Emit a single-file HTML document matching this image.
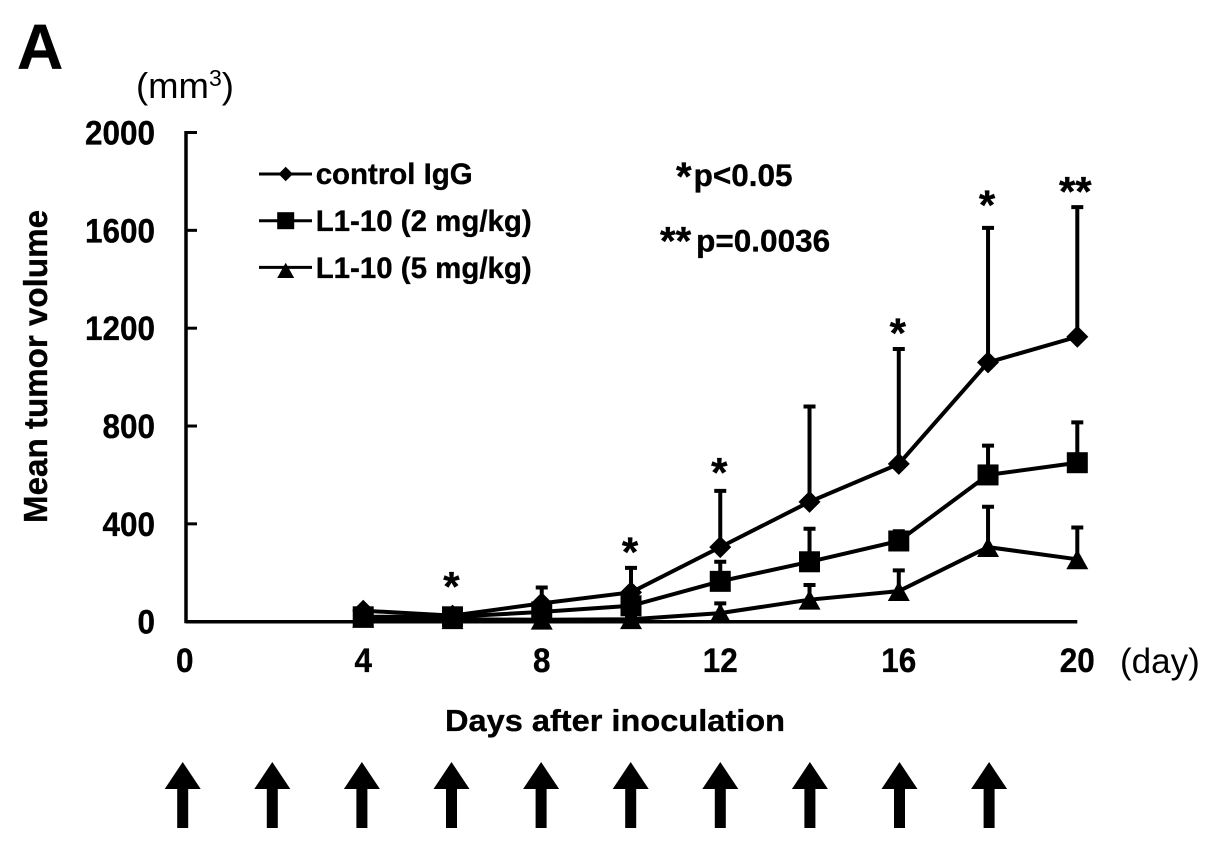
<!DOCTYPE html>
<html lang="en">
<head>
<meta charset="utf-8">
<title>Mean tumor volume</title>
<style>
html,body{margin:0;padding:0;background:#fff;width:1217px;height:852px;overflow:hidden}
svg{display:block}
text{font-family:"Liberation Sans",sans-serif;fill:#000}
.b,text[font-weight="bold"]{font-weight:bold;stroke:#000;stroke-width:.35px}
</style>
</head>
<body>
<svg id="chart" width="1217" height="852" viewBox="0 0 1217 852" xmlns="http://www.w3.org/2000/svg">
<text class="b" x="17" y="69" font-size="64">A</text>
<text x="136" y="98" font-size="36.5">(mm<tspan font-size="23" dy="-12">3</tspan><tspan dy="12">)</tspan></text>
<text class="b" transform="translate(47,523) rotate(-90)" font-size="33" textLength="313" lengthAdjust="spacingAndGlyphs">Mean tumor volume</text>
<text class="b" x="445" y="731" font-size="31" textLength="340" lengthAdjust="spacingAndGlyphs">Days after inoculation</text>
<text x="1120" y="673" font-size="35">(day)</text>
<text class="b" x="676" y="186" font-size="31.5"><tspan font-size="40" dy="4">*</tspan><tspan dy="-4" dx="2">p&lt;0.05</tspan></text>
<text class="b" x="660" y="251.5" font-size="31.5"><tspan font-size="40" dy="3">**</tspan><tspan dy="-3" dx="5">p=0.0036</tspan></text>
<g id="axes"></g>
<g id="series"></g>
<g id="legend"></g>
<g id="stars"></g>
<g id="arrows"></g>
</svg>
<script>
var days = [4, 6, 8, 10, 12, 14, 16, 18, 20];
var controlMean = [45, 25, 75, 120, 305, 490, 645, 1060, 1165];
var controlTop = [55, 35, 140, 220, 535, 880, 1115, 1610, 1695];
var lowDoseMean = [20, 20, 40, 65, 165, 245, 330, 600, 650];
var lowDoseTop = [28, 28, 60, 100, 245, 380, 370, 720, 815];
var highDoseMean = [15, 10, 8, 10, 35, 90, 125, 305, 255];
var highDoseTop = [20, 14, 14, 20, 75, 150, 210, 470, 385];
var yTicks = [0, 400, 800, 1200, 1600, 2000];
var xTicks = [0, 4, 8, 12, 16, 20];
var legendLabels = ['control IgG', 'L1-10 (2 mg/kg)', 'L1-10 (5 mg/kg)'];
var starDays = [6, 10, 12, 16, 18, 20];
var starLabels = ['*', '*', '*', '*', '*', '**'];
var starLevels = [175, 315, 640, 1210, 1735, 1790];
var doseDays = [0, 2, 4, 6, 8, 10, 12, 14, 16, 18];

var NS = 'http://www.w3.org/2000/svg';
function x(d) { return 184.7 + d * 44.63; }
function y(v) { return 621.7 - v * 0.2446; }
function arrowX(d) { return 182.7 + d * 44.8; }
function make(tag, parent, attrs) {
  var el = document.createElementNS(NS, tag);
  for (var k in attrs) el.setAttribute(k, attrs[k]);
  parent.appendChild(el);
  return el;
}
function marker(parent, kind, cx, cy, s) {
  if (kind === 'diamond') {
    return make('polygon', parent, { points: (cx - s) + ',' + cy + ' ' + cx + ',' + (cy - s) + ' ' + (cx + s) + ',' + cy + ' ' + cx + ',' + (cy + s), fill: '#000' });
  }
  if (kind === 'square') {
    return make('rect', parent, { x: cx - s, y: cy - s, width: 2 * s, height: 2 * s, fill: '#000' });
  }
  return make('polygon', parent, { points: (cx - s) + ',' + (cy + s * 0.9) + ' ' + cx + ',' + (cy - s * 0.9) + ' ' + (cx + s) + ',' + (cy + s * 0.9), fill: '#000' });
}

var axes = document.getElementById('axes');
var yAxisLine = make('line', axes, { x1: 186, x2: 186, y1: y(2000) - 1.5, y2: y(0) + 1.5, stroke: '#000', 'stroke-width': 3.5 });


var xAxisLine = make('line', axes, { x1: 186, x2: x(20), y1: y(0), y2: y(0), stroke: '#000', 'stroke-width': 3.5 });


yTicks.forEach(function (t) {
  var tick = make('line', axes, { x1: 186, x2: 197, y1: y(t), y2: y(t), stroke: '#000', 'stroke-width': 3 });
  
  
  var label = make('text', axes, { x: 155, y: y(t) + 12, 'text-anchor': 'end', 'font-size': 34, 'font-weight': 'bold', textLength: String(t).length * 17.5, lengthAdjust: 'spacingAndGlyphs' });
  label.textContent = t;
  
  
});
xTicks.forEach(function (t) {
  var label = make('text', axes, { x: x(t), y: 672, 'text-anchor': 'middle', 'font-size': 34, 'font-weight': 'bold', textLength: String(t).length * 17.5, lengthAdjust: 'spacingAndGlyphs' });
  label.textContent = t;
  
  
});

var seriesRoot = document.getElementById('series');
function drawSeries(name, kind, size, means, tops) {
  var g = make('g', seriesRoot, {});
  
  
  tops.forEach(function (top, i) {
    var bar = make('path', g, { d: 'M' + x(days[i]) + ' ' + y(means[i]) + 'V' + y(top) + 'M' + (x(days[i]) - 6) + ' ' + y(top) + 'H' + (x(days[i]) + 6), stroke: '#000', 'stroke-width': 4, fill: 'none' });
    
    
  });
  var pts = means.map(function (m, i) { return x(days[i]) + ',' + y(m); }).join(' ');
  var line = make('polyline', g, { points: pts, fill: 'none', stroke: '#000', 'stroke-width': 4 });
  
  
  means.forEach(function (m, i) {
    var mk = marker(g, kind, x(days[i]), y(m), size);
    
    
  });
}
drawSeries('series-control-igg', 'diamond', 11, controlMean, controlTop);
drawSeries('series-l1-10-2mg', 'square', 10.5, lowDoseMean, lowDoseTop);
drawSeries('series-l1-10-5mg', 'triangle', 11, highDoseMean, highDoseTop);

var legend = document.getElementById('legend');
var legendKinds = ['diamond', 'square', 'triangle'];
var legendSizes = [7.2, 8.5, 8.5];
var legendMarkerShift = [0, 0, 3];
legendLabels.forEach(function (name, i) {
  var ly = 174 + i * 46.7;
  var g = make('g', legend, {});
  
  
  make('line', g, { x1: 259, x2: 312, y1: ly, y2: ly, stroke: '#000', 'stroke-width': 3 });
  marker(g, legendKinds[i], 285.7, ly + legendMarkerShift[i], legendSizes[i]);
  var t = make('text', g, { x: 315.7, y: 184 + i * 47, 'font-size': 30, 'font-weight': 'bold', textLength: i === 0 ? 157 : 216, lengthAdjust: 'spacingAndGlyphs' });
  t.textContent = name;
});

var stars = document.getElementById('stars');
starDays.forEach(function (d, i) {
  var s = make('text', stars, { x: x(d) - (starLabels[i].length === 2 ? 2 : 1), y: y(starLevels[i]) + 22, 'text-anchor': 'middle', 'font-size': 42, 'font-weight': 'bold' });
  s.textContent = starLabels[i];
  
  
});

var arrows = document.getElementById('arrows');
doseDays.forEach(function (d) {
  var cx = arrowX(d);
  var a = make('polygon', arrows, { points: cx + ',762 ' + (cx + 18) + ',789 ' + (cx + 5.5) + ',789 ' + (cx + 5.5) + ',828 ' + (cx - 5.5) + ',828 ' + (cx - 5.5) + ',789 ' + (cx - 18) + ',789', fill: '#000' });
  
  
});
</script>
</body>
</html>
